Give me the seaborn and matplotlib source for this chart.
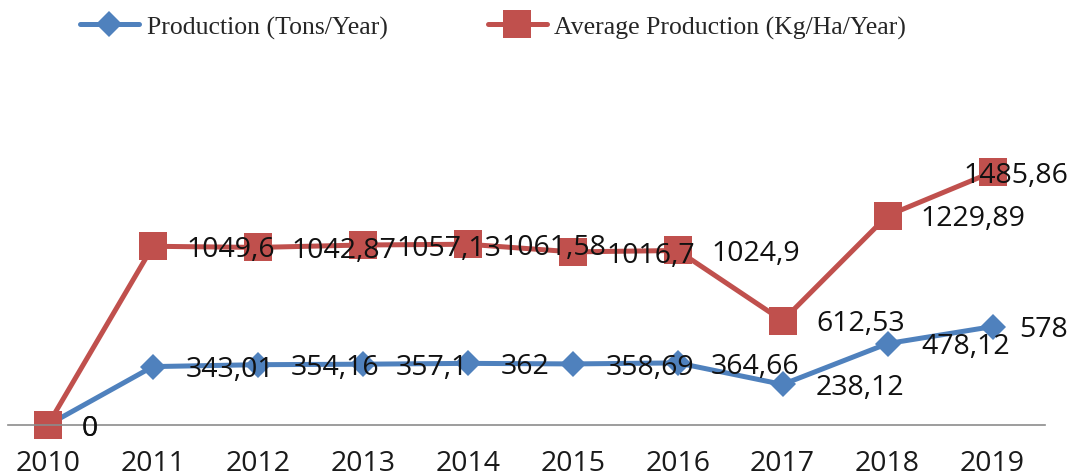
import pandas as pd
import matplotlib
matplotlib.use("Agg")
import matplotlib.pyplot as plt
import seaborn as sns

# chart values
years = ["2010", "2011", "2012", "2013", "2014", "2015", "2016", "2017", "2018", "2019"]
production = [0, 343.01, 354.16, 357.1, 362, 358.69, 364.66, 238.12, 478.12, 578]
avg_production = [0, 1049.6, 1042.87, 1057.13, 1061.58, 1016.7, 1024.9, 612.53, 1229.89, 1485.86]
prod_label = "Production (Tons/Year)"
avg_label = "Average Production (Kg/Ha/Year)"

blue = "#4F81BD"
red = "#C0504D"

sns.set_style("white")
plt.rcParams["font.family"] = ["Open Sans", "DejaVu Sans"]

W, H = 1076, 477
fig = plt.figure(figsize=(W / 100, H / 100), dpi=100)
ax = fig.add_axes([8 / W, (H - 426) / H, 1037 / W, 336 / H])

df = pd.DataFrame({"year": years, "prod": production, "avg": avg_production})

sns.lineplot(data=df, x="year", y="prod", ax=ax, color=blue, lw=3.6, marker="D",
             markersize=13.5, markeredgewidth=0, label=prod_label, clip_on=False, sort=False)
sns.lineplot(data=df, x="year", y="avg", ax=ax, color=red, lw=3.6, marker="s",
             markersize=19.5, markeredgewidth=0, label=avg_label, clip_on=False, sort=False)

ax.set_xlim(-0.38, 9.5)
ax.set_ylim(0, 336 / (253 / 1485.86))
ax.set_xlabel("")
ax.set_ylabel("")
ax.set_yticks([])
ax.tick_params(axis="x", length=0, pad=17, labelsize=20.5, colors="#1a1a1a")

for s in ["top", "left", "right"]:
    ax.spines[s].set_visible(False)
ax.spines["bottom"].set_color("#8c8c8c")
ax.spines["bottom"].set_linewidth(1.2)

# data labels, comma as decimal separator, to the right of each point
def fmt(v):
    return f"{v:g}".replace(".", ",")

last = len(years) - 1
for series in (production, avg_production):
    for i, v in enumerate(series):
        if i == last:
            ax.annotate(fmt(v), xy=(1068 / W, v), xycoords=("figure fraction", "data"),
                        xytext=(0, -2), textcoords="offset points",
                        ha="right", va="center", fontsize=20.5, color="#111111", zorder=5)
        else:
            ax.annotate(fmt(v), xy=(i, v), xytext=(24, -2), textcoords="offset points",
                        ha="left", va="center", fontsize=20.5, color="#111111", zorder=5)

handles, labels = ax.get_legend_handles_labels()
ax.legend_.remove()
fig.legend(handles, labels, loc="center", bbox_to_anchor=(493 / W, 1 - 28 / H), ncol=2,
           frameon=False, handlelength=2.3, handletextpad=0.3, columnspacing=3.9,
           prop={"family": "Liberation Serif", "size": 18.5})

fig.savefig("out.png", dpi=100)
